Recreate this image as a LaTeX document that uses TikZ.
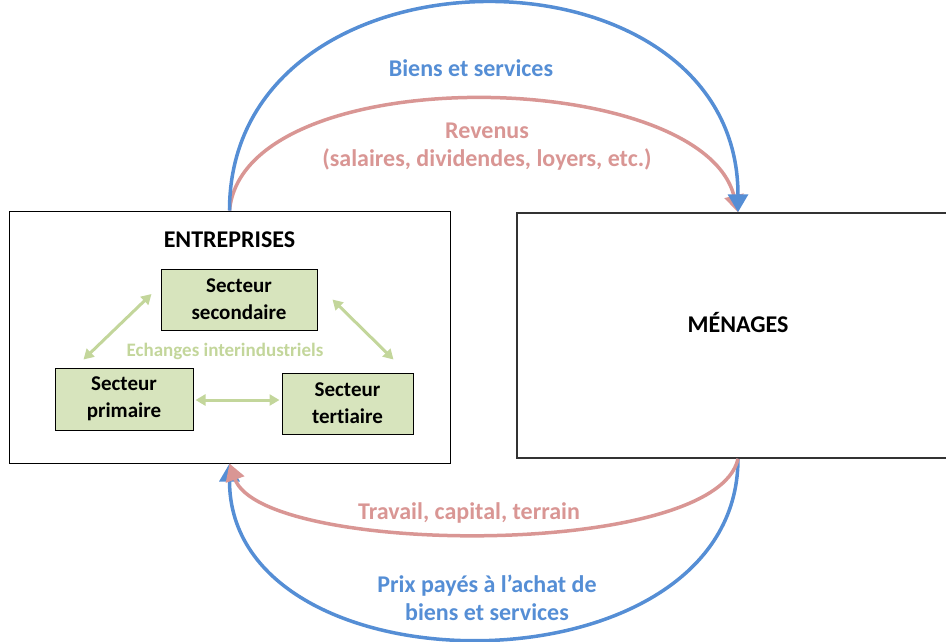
\documentclass[tikz,border=0pt]{standalone}
\usepackage{fontspec}
\setmainfont[Ligatures=NoCommon]{Carlito}
\usetikzlibrary{arrows.meta}
\definecolor{flowblue}{RGB}{85,142,213}
\definecolor{flowpink}{RGB}{217,150,148}
\definecolor{xchgreen}{RGB}{195,214,155}
\definecolor{boxgreen}{RGB}{215,228,189}
\begin{document}
\begin{tikzpicture}[x=1pt,y=-1pt,
  every node/.style={font=\bfseries\fontsize{24}{28}\selectfont,inner sep=0pt,align=center},
  bigbox/.style={draw,line width=1pt,minimum width=#1},
  sector/.style={draw=black,fill=boxgreen,line width=1pt,font=\bfseries\fontsize{21}{27}\selectfont},
  xchg/.style={xchgreen,line width=3pt,{Triangle[width=11pt,length=10pt]}-{Triangle[width=11pt,length=10pt]}},
  bluearc/.style={flowblue,line width=3.5pt,-{Triangle[width=20pt,length=18pt]}},
  pinkarc/.style={flowpink,line width=3.5pt,-{Triangle[width=19pt,length=17pt]}}]
  \useasboundingbox (0,0) rectangle (946,641);
  % the two agents
  \node[bigbox=441pt,minimum height=252pt] (ent) at (229.5,337) {};
  \node[bigbox=442pt,minimum height=245pt,draw=black!80,line width=1.5pt] (men) at (738,335.5) {};
  \node at ([yshift=-29pt]ent.north) {ENTREPRISES};
  \node at ([yshift=13pt]men.center) {MÉNAGES};
  % sectors inside the firms
  \node[sector,minimum width=156pt,minimum height=61pt] (sec) at (239,299.5) {Secteur\\secondaire};
  \node[sector,minimum width=138pt,minimum height=62pt] (pri) at (124,399) {Secteur\\primaire};
  \node[sector,minimum width=131pt,minimum height=61pt] (ter) at (347.5,403.5) {Secteur\\tertiaire};
  \node[text=xchgreen,font=\bfseries\fontsize{19}{22}\selectfont] (ech) at (225,351) {Echanges interindustriels};
  \draw[xchg] ([xshift=29pt,yshift=8pt]pri.north west) -- ([xshift=-9pt,yshift=5.5pt]sec.west);
  \draw[xchg] ([xshift=15pt]sec.east) -- ([xshift=-20pt,yshift=13pt]ter.north east);
  \draw[xchg] ([xshift=2pt,yshift=-1pt]pri.east) -- ([xshift=-2pt,yshift=-1pt]pri.east -| ter.west);
  % real flows (blue) and money flows (pink)
  \draw[pinkarc] (ent.north) .. controls (244,58) and (702,66) .. (men.north);
  \draw[bluearc] (ent.north) .. controls +(0,-276) and +(0,-278) .. (men.north);
  \draw[bluearc] (men.south) .. controls +(0,239) and +(0,234) .. (ent.south);
  \draw[pinkarc] (men.south) .. controls (716,560) and (262,556) .. (ent.south);
  \node[text=flowblue] (bs) at (471,68) {Biens et services};
  \node[text=flowpink] (rev) at (487,147) {Revenus\\(salaires, dividendes, loyers, etc.)};
  \node[text=flowpink] (trav) at (469,513) {Travail, capital, terrain};
  \node[text=flowblue] (prix) at (487,598) {Prix payés à l’achat de\\biens et services};
\end{tikzpicture}
\end{document}
